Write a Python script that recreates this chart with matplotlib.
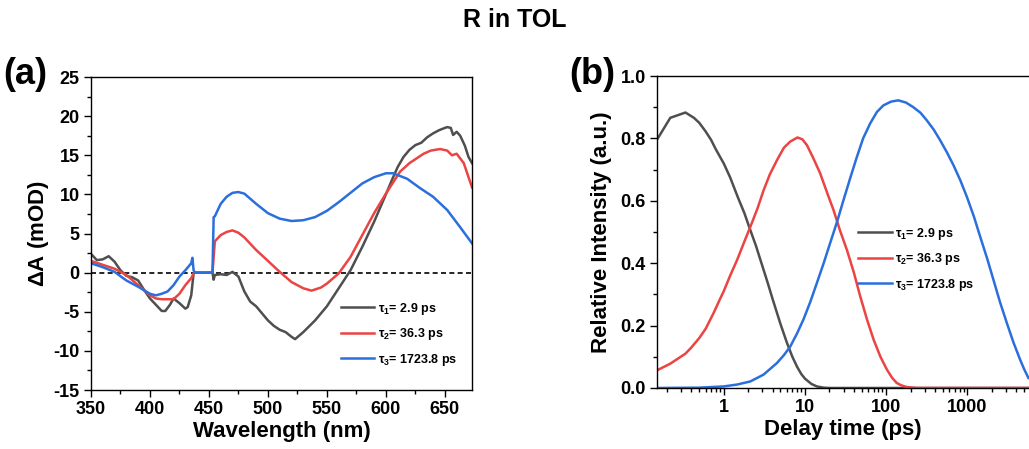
#!/usr/bin/env python3
"""R in TOL: decay-associated spectra (a) and population kinetics (b)."""

import matplotlib
matplotlib.use("Agg")
import matplotlib.pyplot as plt
from matplotlib.ticker import MultipleLocator, LogLocator, NullFormatter, FixedLocator

# ---- panel (a): spectra, wavelength (nm) vs dA (mOD)
wl_1 = [350, 355, 360, 365, 370, 375, 380, 385, 390, 395, 400, 405, 410, 413,
        417, 420, 425, 430, 432, 435, 437, 438, 445, 453, 454, 455, 460, 465,
        470, 475, 480, 485, 490, 495, 500, 505, 510, 515, 520, 523, 530, 540,
        550, 560, 570, 580, 590, 600, 605, 610, 615, 620, 625, 630, 635, 640,
        645, 650, 652, 655, 657, 660, 663, 667, 670, 673]
da_1 = [2.4, 1.6, 1.7, 2.1, 1.4, 0.3, -0.4, -0.6, -1.0, -2.2, -3.3, -4.1, -4.9,
        -4.9, -4.1, -3.3, -3.9, -4.6, -4.4, -2.9, -0.1, 0.0, 0.0, 0.0, -0.9,
        -0.3, -0.2, -0.3, 0.1, -0.5, -2.4, -3.7, -4.3, -5.2, -6.1, -6.8, -7.3,
        -7.6, -8.2, -8.5, -7.6, -6.1, -4.3, -2.0, 0.3, 3.3, 6.5, 10.0, 11.8,
        13.5, 14.8, 15.7, 16.3, 16.6, 17.3, 17.8, 18.2, 18.5, 18.6, 18.5, 17.6,
        18.0, 17.5, 16.2, 14.8, 14.0]

wl_2 = [350, 360, 370, 380, 390, 400, 405, 410, 420, 425, 430, 435, 437, 438,
        445, 453, 454, 455, 460, 465, 470, 475, 480, 490, 500, 510, 520, 530,
        537, 545, 550, 560, 570, 580, 590, 600, 612, 620, 632, 638, 646, 652,
        656, 660, 666, 673]
da_2 = [1.5, 1.0, 0.5, -0.3, -1.6, -2.9, -3.3, -3.4, -3.4, -2.7, -1.6, -0.7,
        -0.1, 0.0, 0.0, 0.0, 2.0, 4.0, 4.8, 5.2, 5.4, 5.1, 4.5, 2.9, 1.5, 0.1,
        -1.2, -2.0, -2.3, -1.9, -1.4, -0.1, 2.0, 4.8, 7.6, 10.1, 12.9, 14.0,
        15.2, 15.6, 15.8, 15.6, 15.0, 15.2, 14.0, 10.9]

wl_3 = [350, 360, 370, 380, 390, 400, 405, 410, 415, 420, 425, 430, 435, 436,
        437, 438, 445, 453, 454, 455, 460, 465, 470, 475, 480, 490, 500, 510,
        520, 530, 540, 550, 560, 570, 580, 590, 600, 606, 618, 629, 640, 652,
        663, 673]
da_3 = [1.2, 0.7, 0.1, -1.0, -1.8, -2.7, -2.9, -2.7, -2.4, -1.6, -0.5, 0.3,
        1.2, 1.9, 0.3, 0.0, 0.0, 0.0, 7.1, 7.2, 8.8, 9.7, 10.2, 10.3, 10.1,
        8.8, 7.6, 6.9, 6.6, 6.7, 7.1, 7.9, 9.0, 10.2, 11.4, 12.2, 12.7, 12.7,
        12.0, 10.8, 9.7, 8.0, 5.8, 3.75]

# ---- panel (b): kinetics, delay time (ps) vs relative intensity
t_1 = [0.151, 0.22, 0.338, 0.43, 0.5, 0.6, 0.7, 0.8, 1.0, 1.2, 1.5, 1.8, 2.1,
       2.5, 3.0, 3.5, 4.0, 5.0, 6.0, 7.0, 8.0, 9.0, 10, 12, 14, 17, 20, 40,
       6000]
c_1 = [0.796, 0.866, 0.883, 0.866, 0.85, 0.822, 0.795, 0.765, 0.72, 0.675,
       0.61, 0.56, 0.51, 0.455, 0.39, 0.335, 0.285, 0.205, 0.145, 0.10, 0.068,
       0.045, 0.03, 0.013, 0.005, 0.001, 0.0, 0.0, 0.0]

t_2 = [0.151, 0.22, 0.338, 0.4, 0.5, 0.6, 0.75, 0.9, 1.0, 1.2, 1.46, 1.8,
       2.13, 2.6, 3.1, 3.7, 4.52, 5.5, 6.6, 8.1, 9.3, 10.6, 12.5, 15.4, 18.5,
       22.5, 27, 32.9, 40, 48, 58, 70, 85, 102, 118, 135, 155, 180, 238, 500,
       6000]
c_2 = [0.0565, 0.078, 0.11, 0.13, 0.16, 0.19, 0.24, 0.285, 0.31, 0.36, 0.41,
       0.47, 0.517, 0.575, 0.634, 0.685, 0.73, 0.77, 0.79, 0.803, 0.797, 0.778,
       0.74, 0.688, 0.63, 0.57, 0.505, 0.442, 0.37, 0.293, 0.22, 0.155, 0.10,
       0.059, 0.033, 0.016, 0.008, 0.003, 0.0, 0.0, 0.0]

t_3 = [0.151, 0.5, 1.0, 1.46, 2.13, 3.1, 4.52, 5.5, 6.6, 8.0, 9.6, 11.6, 14,
       17, 20.4, 25, 29.8, 36, 43.5, 52, 63.5, 77, 92.6, 115, 141, 175, 216,
       265, 316, 385, 462, 560, 674, 820, 984, 1200, 1436, 1750, 2096, 2500,
       3060, 3700, 4466, 5000, 5640]
c_3 = [0.0, 0.001, 0.005, 0.011, 0.021, 0.043, 0.08, 0.105, 0.133, 0.175,
       0.22, 0.275, 0.336, 0.40, 0.464, 0.535, 0.602, 0.672, 0.74, 0.80, 0.848,
       0.885, 0.906, 0.918, 0.922, 0.915, 0.90, 0.882, 0.858, 0.828, 0.794,
       0.755, 0.714, 0.665, 0.613, 0.55, 0.485, 0.415, 0.346, 0.278, 0.208,
       0.145, 0.09, 0.06, 0.032]

labels = [r"$\mathregular{\tau_1}$= 2.9 ps",
          r"$\mathregular{\tau_2}$= 36.3 ps",
          r"$\mathregular{\tau_3}$= 1723.8 ps"]
COLORS = ["#4f4f4f", "#ec4343", "#2b6fdc"]


def style_axes(ax):
    for sp in ax.spines.values():
        sp.set_linewidth(1.0)
    ax.tick_params(which="both", direction="out", width=1.0,
                   labelsize=13, pad=3)
    ax.tick_params(which="major", length=5)
    ax.tick_params(which="minor", length=3)
    for lab in ax.get_xticklabels() + ax.get_yticklabels():
        lab.set_fontweight("bold")


def main():
    plt.rcParams["font.family"] = ["Liberation Sans", "DejaVu Sans"]
    plt.rcParams["font.weight"] = "bold"
    plt.rcParams["mathtext.fontset"] = "custom"
    plt.rcParams["mathtext.rm"] = "Liberation Sans"
    plt.rcParams["axes.unicode_minus"] = False

    fig = plt.figure(figsize=(10.29, 4.49), dpi=100)
    fig.text(0.5, 0.955, "R in TOL", ha="center", va="center",
             fontsize=18, fontweight="bold")

    # panel (a)
    ax1 = fig.add_axes([0.0884, 0.1314, 0.3703, 0.697])
    ax1.axhline(0, color="black", lw=1.2, ls=(0, (3, 2)), zorder=1)
    for wl, da, col, lab in zip([wl_1, wl_2, wl_3], [da_1, da_2, da_3],
                                COLORS, labels):
        ax1.plot(wl, da, color=col, lw=1.8, label=lab)
    ax1.set_xlim(350, 673)
    ax1.set_ylim(-15, 25)
    ax1.xaxis.set_major_locator(MultipleLocator(50))
    ax1.xaxis.set_minor_locator(MultipleLocator(25))
    ax1.yaxis.set_major_locator(MultipleLocator(5))
    ax1.yaxis.set_minor_locator(MultipleLocator(2.5))
    style_axes(ax1)
    ax1.set_xlabel("Wavelength (nm)", fontsize=16, fontweight="bold",
                   labelpad=2)
    ax1.set_ylabel(r"$\mathregular{\Delta}$A (mOD)", fontsize=16,
                   fontweight="bold", labelpad=2)
    ax1.legend(loc="upper left", bbox_to_anchor=(0.655, 0.285), frameon=False,
               prop={"size": 9, "weight": "bold"}, handlelength=2.7,
               handletextpad=0.3, labelspacing=0.75, borderpad=0,
               borderaxespad=0)
    fig.text(0.003, 0.835, "(a)", fontsize=26, fontweight="bold",
             ha="left", va="center")

    # panel (b)
    ax2 = fig.add_axes([0.6385, 0.1359, 0.3615, 0.6948])
    for t, c, col, lab in zip([t_1, t_2, t_3], [c_1, c_2, c_3],
                              COLORS, labels):
        ax2.plot(t, c, color=col, lw=1.8, label=lab)
    ax2.set_xscale("log")
    ax2.set_xlim(0.151, 5730)
    ax2.set_ylim(0, 1.0)
    ax2.xaxis.set_major_locator(FixedLocator([1, 10, 100, 1000]))
    ax2.xaxis.set_minor_locator(LogLocator(base=10, subs=range(2, 10),
                                           numticks=20))
    ax2.xaxis.set_minor_formatter(NullFormatter())
    ax2.set_xticklabels(["1", "10", "100", "1000"])
    ax2.yaxis.set_major_locator(MultipleLocator(0.2))
    ax2.yaxis.set_minor_locator(MultipleLocator(0.1))
    ax2.yaxis.set_major_formatter(plt.FormatStrFormatter("%.1f"))
    ax2.spines["right"].set_visible(False)
    style_axes(ax2)
    ax2.set_xlabel("Delay time (ps)", fontsize=16, fontweight="bold",
                   labelpad=2)
    ax2.set_ylabel("Relative Intensity (a.u.)", fontsize=16,
                   fontweight="bold", labelpad=6)
    ax2.legend(loc="upper left", bbox_to_anchor=(0.54, 0.52), frameon=False,
               prop={"size": 9, "weight": "bold"}, handlelength=2.7,
               handletextpad=0.3, labelspacing=0.75, borderpad=0,
               borderaxespad=0)
    fig.text(0.553, 0.835, "(b)", fontsize=26, fontweight="bold",
             ha="left", va="center")

    fig.savefig("out.png", dpi=100)


if __name__ == "__main__":
    main()
